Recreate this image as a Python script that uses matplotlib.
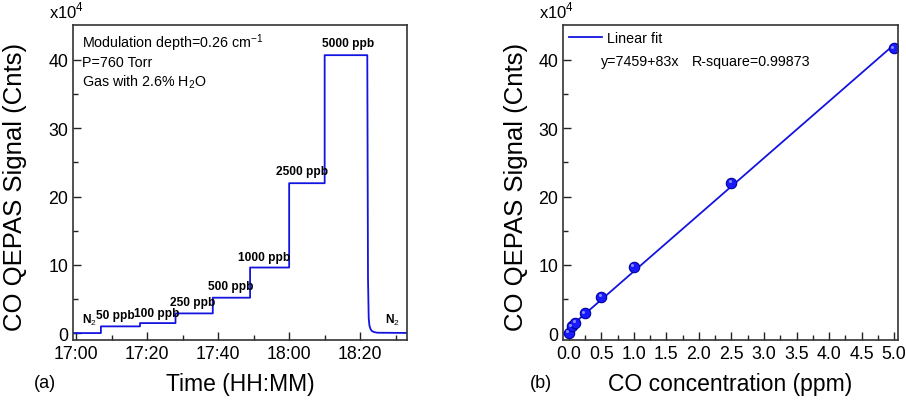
import matplotlib
matplotlib.use("Agg")
import matplotlib.pyplot as plt
import matplotlib.transforms as mtrans
import numpy as np

plt.rcParams['font.family'] = ['Liberation Sans', 'DejaVu Sans']
plt.rcParams['mathtext.fontset'] = 'custom'
plt.rcParams['mathtext.rm'] = 'Liberation Sans'
plt.rcParams['mathtext.bf'] = 'Liberation Sans:bold'

# ---- data (a): signal vs time, minutes after 17:00, signal in 1e4 counts
step_start = [-1.0, 7.0, 18.0, 28.0, 38.5, 49.0, 60.0, 70.0]
step_end = [7.0, 18.0, 28.0, 38.5, 49.0, 60.0, 70.0, 82.0]
step_level = [0.0, 0.98, 1.46, 2.88, 5.18, 9.6, 21.95, 40.7]
decay_t = [82.0, 82.2, 82.4, 82.6, 82.9, 83.3, 83.9, 84.8, 93.3]
decay_v = [40.7, 8.0, 2.2, 1.1, 0.6, 0.3, 0.15, 0.05, 0.02]
step_names = ["N$_2$", "50 ppb", "100 ppb", "250 ppb", "500 ppb",
              "1000 ppb", "2500 ppb", "5000 ppb", "N$_2$"]
time_ticks = [0, 20, 40, 60, 80]
time_labels = ["17:00", "17:20", "17:40", "18:00", "18:20"]

# ---- data (b): signal vs concentration
conc_ppm = [0.0, 0.05, 0.1, 0.25, 0.5, 1.0, 2.5, 5.0]
signal = [0.0, 1.0, 1.5, 2.9, 5.3, 9.7, 22.0, 41.7]
fit_intercept = 7459.0
fit_slope = 83.0  # per ppb

blue = '#1414e0'

fig = plt.figure(figsize=(9.06, 4.02), dpi=100)
ax1 = fig.add_axes([0.0806, 0.152, 0.3687, 0.783])
ax2 = fig.add_axes([0.6214, 0.152, 0.3698, 0.783])

# time series built from step lists
xs, ys = [], []
for s, e, v in zip(step_start, step_end, step_level):
    xs += [s, e]
    ys += [v, v]
xs += decay_t
ys += decay_v
ax1.plot(xs, ys, color=blue, lw=1.3)

lab_x = [3.8, 11.2, 22.6, 32.8, 43.5, 53.0, 63.5, 76.6, 89.0]
lab_y = [0.9, 1.7, 2.1, 3.6, 6.0, 10.2, 22.8, 41.6, 0.9]
for name, lx, ly in zip(step_names, lab_x, lab_y):
    ax1.text(lx, ly, name, ha='center', va='bottom', fontsize=8.6,
             fontweight='bold')

ax1.text(0.027, 0.946, "Modulation depth=0.26 cm$^{\\mathregular{-1}}$",
         transform=ax1.transAxes, fontsize=10.3, va='center')
ax1.text(0.027, 0.883, "P=760 Torr", transform=ax1.transAxes, fontsize=10.3, va='center')
ax1.text(0.027, 0.822, "Gas with 2.6% H$_2$O", transform=ax1.transAxes,
         fontsize=10.3, va='center')

ax1.set_xlim(-0.85, 93.2)
ax1.set_xticks(time_ticks)
ax1.set_xticklabels(time_labels)
ax1.set_xticks(np.arange(10, 100, 20), minor=True)
ax1.set_xlabel("Time (HH:MM)", fontsize=16.5, va='center')

# (b) calibration
fit_x = np.array([0.0, 5.0])
fit_y = (fit_intercept + fit_slope * 1000 * fit_x) / 1e4
ax2.plot(fit_x, fit_y, color=blue, lw=1.3, label="Linear fit")
ax2.plot(conc_ppm, signal, 'o', color='#1a1aff', mec='#0000a0', mew=0.8, ms=7.5)
# small highlight to mimic the shaded spheres
hl = mtrans.offset_copy(ax2.transData, fig=fig, x=-1.2, y=1.2, units='points')
ax2.plot(conc_ppm, signal, 'o', color='#8c8cff', mec='none', ms=2.2, transform=hl)
ax2.legend(loc='upper left', frameon=False, fontsize=10.3, handlelength=2.3,
           handletextpad=0.35, borderaxespad=0.0, bbox_to_anchor=(0.0, 1.0))
ax2.text(0.113, 0.886, "y=7459+83x", transform=ax2.transAxes, fontsize=10.3, va='center')
ax2.text(0.385, 0.886, "R-square=0.99873", transform=ax2.transAxes, fontsize=10.3,
         va='center')
ax2.set_xlim(-0.09, 5.06)
ax2.set_xticks(np.arange(0, 5.01, 0.5))
ax2.set_xticklabels(["%.1f" % v for v in np.arange(0, 5.01, 0.5)])
ax2.set_xticks(np.arange(0.25, 5.0, 0.5), minor=True)
ax2.set_xlabel("CO concentration (ppm)", fontsize=16.5, va='center')

for ax in (ax1, ax2):
    ax.set_ylim(-1.0, 45.1)
    ax.set_yticks([0, 10, 20, 30, 40])
    ax.set_yticks([5, 15, 25, 35], minor=True)
    ax.set_ylabel("CO QEPAS Signal (Cnts)", fontsize=18.5, va='center')
    ax.tick_params(which='both', direction='in', top=False, right=False,
                   labelsize=12.8, width=1.0, color='#222222')
    ax.tick_params(which='major', length=6)
    ax.tick_params(which='minor', length=3.5)
    for sp in ax.spines.values():
        sp.set_linewidth(1.2)
        sp.set_color('#333333')
    ax.xaxis.set_label_coords(0.5, -0.14)
    ax.text(-0.02, 1.015, "x10$^{\\mathregular{4}}$", transform=ax.transAxes,
            fontsize=12, ha='center', va='bottom')

ax1.yaxis.set_label_coords(-0.174, 0.49)
ax2.yaxis.set_label_coords(-0.14, 0.49)

fig.text(0.050, 0.045, "(a)", fontsize=13, va='center', ha='center')
fig.text(0.597, 0.045, "(b)", fontsize=13, va='center', ha='center')

fig.savefig("out.png", dpi=100)
